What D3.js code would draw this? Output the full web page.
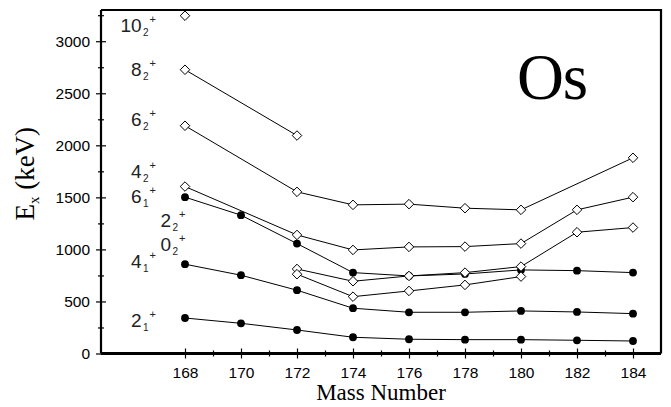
<!DOCTYPE html>
<html>
<head>
<meta charset="utf-8">
<script src="https://cdn.jsdelivr.net/npm/d3@7"></script>
<style>
  html, body { margin: 0; padding: 0; background: #fff; }
  svg { display: block; }
  .sans { font-family: "Liberation Sans", Arial, Helvetica, sans-serif; }
  .serif { font-family: "Liberation Serif", "Times New Roman", Times, "DejaVu Serif", serif; }
</style>
</head>
<body>
<svg id="chart" width="671" height="407"></svg>
<script>
// Mass numbers of the Os isotopes
const massNumbers = [168, 170, 172, 174, 176, 178, 180, 182, 184];

// Level energies (keV) per band member; null = not observed
const e10_2 = [3245, null, null, null, null, null, null, null, null];
const e8_2  = [2726, null, 2094, null, null, null, null, null, null];
const e6_2  = [2188, null, 1553, 1428, 1435, 1396, 1380, null, 1880];
const e4_2  = [1604, null, 1139, 995, 1024, 1027, 1056, 1380, 1502];
const e6_1  = [1502, 1329, 1056, 777, 745, 764, 803, 796, 777];
const e2_2  = [null, null, 812, 694, 745, 777, 835, 1165, 1210];
const e0_2  = [null, null, 762, 546, 601, 659, 739, null, null];
const e4_1  = [858, 752, 608, 435, 396, 396, 409, 399, 383];
const e2_1  = [341, 290, 226, 156, 137, 133, 133, 127, 120];

// Tick labels
const xTickLabels = [168, 170, 172, 174, 176, 178, 180, 182, 184];
const yTickLabels = [0, 500, 1000, 1500, 2000, 2500, 3000];

// Series: yrast-band levels drawn as filled circles, the rest as open diamonds
const series = [
  { spin: "10", idx: "2", values: e10_2, filled: false, label: [166.45, 3088] },
  { spin: "8",  idx: "2", values: e8_2,  filled: false, label: [166.45, 2668] },
  { spin: "6",  idx: "2", values: e6_2,  filled: false, label: [166.45, 2188] },
  { spin: "4",  idx: "2", values: e4_2,  filled: false, label: [166.45, 1688] },
  { spin: "6",  idx: "1", values: e6_1,  filled: true,  label: [166.45, 1444] },
  { spin: "2",  idx: "2", values: e2_2,  filled: false, label: [167.5, 1219] },
  { spin: "0",  idx: "2", values: e0_2,  filled: false, label: [167.5, 985] },
  { spin: "4",  idx: "1", values: e4_1,  filled: true,  label: [166.45, 819] },
  { spin: "2",  idx: "1", values: e2_1,  filled: true,  label: [166.45, 257] }
];

const svg = d3.select("#chart");

const x = d3.scaleLinear().domain([165, 185]).range([101, 661]);
const y = d3.scaleLinear().domain([0, 3300]).range([353.5, 10]);

// Frame (top and right sides)
svg.append("path")
  .attr("d", `M${x(165)},${y(3300)}H${x(185)}V${y(0)}`)
  .attr("fill", "none").attr("stroke", "#000").attr("stroke-width", 2.2);

// Bottom axis: major ticks with labels, minor ticks between
const xAxis = svg.append("g").attr("transform", `translate(0,${y(0)})`)
  .call(d3.axisBottom(x).tickValues(xTickLabels).tickSize(5).tickPadding(8).tickFormat(d3.format("d")));
xAxis.selectAll(".tick line").attr("y1", -5).attr("y2", 5).attr("stroke-width", 1.2);
xAxis.selectAll(".tick text").attr("class", "sans")
  .style("font-size", "15.5px").attr("fill", "#000");
xAxis.attr("font-family", null);
const xMinor = svg.append("g").attr("transform", `translate(0,${y(0)})`)
  .call(d3.axisBottom(x).tickValues(d3.range(169, 185, 2)).tickSize(3).tickFormat(""));
xMinor.selectAll(".tick line").attr("y1", -3).attr("y2", 3).attr("stroke-width", 1.2);
xMinor.select(".domain").remove();
xAxis.select(".domain").attr("d", `M${x(165)},0H${x(185)}`).attr("stroke-width", 2.8);

// Left axis
const yAxis = svg.append("g").attr("transform", `translate(${x(165)},0)`)
  .call(d3.axisLeft(y).tickValues(yTickLabels).tickSize(5).tickPadding(6).tickFormat(d3.format("d")));
yAxis.selectAll(".tick line").attr("x1", -5).attr("x2", 5).attr("stroke-width", 1.2);
yAxis.selectAll(".tick text").attr("class", "sans")
  .style("font-size", "15.5px").attr("fill", "#000");
yAxis.attr("font-family", null);
const yMinor = svg.append("g").attr("transform", `translate(${x(165)},0)`)
  .call(d3.axisLeft(y).tickValues(d3.range(250, 3300, 500)).tickSize(3).tickFormat(""));
yMinor.selectAll(".tick line").attr("x1", -3).attr("x2", 3).attr("stroke-width", 1.2);
yMinor.select(".domain").remove();
yAxis.select(".domain").attr("d", `M0,${y(0)}V${y(3300)}`).attr("stroke-width", 2.2);

// Axis titles
svg.append("text")
  .attr("class", "serif")
  .attr("x", x(175)).attr("y", 400)
  .attr("text-anchor", "middle")
  .style("font-size", "23px")
  .text("Mass Number");

const yTitle = svg.append("text")
  .attr("class", "serif")
  .attr("transform", `translate(34,${(y(0) + y(3300)) / 2 - 8}) rotate(-90)`)
  .attr("text-anchor", "middle")
  .style("font-size", "27px");
yTitle.append("tspan").text("E");
yTitle.append("tspan").style("font-size", "15px").attr("dy", 5).text("x");
yTitle.append("tspan").attr("dy", -5).text(" (keV)");

// Element symbol
svg.append("text")
  .attr("class", "serif")
  .attr("x", 552).attr("y", 99)
  .attr("text-anchor", "middle")
  .style("font-size", "65px")
  .style("letter-spacing", "-1px")
  .text("Os");

// Connecting lines (gaps are bridged between observed points)
const line = d3.line()
  .x(d => x(d.m))
  .y(d => y(d.e));

const pts = s => massNumbers.map((m, i) => ({ m, e: s.values[i] })).filter(d => d.e != null);

svg.append("g").selectAll("path")
  .data(series)
  .join("path")
  .attr("d", s => line(pts(s)))
  .attr("fill", "none")
  .attr("stroke", "#000")
  .attr("stroke-width", 1);

// Filled circles first, diamonds drawn above them
const circles = series.filter(s => s.filled);
const diamonds = series.filter(s => !s.filled);

svg.append("g").selectAll("g")
  .data(circles)
  .join("g")
  .selectAll("circle")
  .data(s => pts(s))
  .join("circle")
  .attr("cx", d => x(d.m)).attr("cy", d => y(d.e))
  .attr("r", 3.9)
  .attr("fill", "#000");

const diamondPath = d3.symbol().type(d3.symbolDiamond2).size(58);
svg.append("g").selectAll("g")
  .data(diamonds)
  .join("g")
  .selectAll("path")
  .data(s => pts(s))
  .join("path")
  .attr("transform", d => `translate(${x(d.m)},${y(d.e)})`)
  .attr("d", diamondPath())
  .attr("fill", "#fff")
  .attr("stroke", "#000")
  .attr("stroke-width", 1);

// State labels: J with band index subscript and parity superscript
series.forEach(s => {
  const lx = x(s.label[0]), ly = y(s.label[1]);
  svg.append("text")
    .attr("class", "sans")
    .attr("x", lx).attr("y", ly)
    .attr("text-anchor", "end")
    .style("font-size", "19px").attr("fill", "#222")
    .text(s.spin);
  svg.append("text")
    .attr("class", "sans")
    .attr("x", lx + 1.5).attr("y", ly + 4)
    .style("font-size", "10px").attr("fill", "#222")
    .text(s.idx);
  svg.append("text")
    .attr("class", "sans")
    .attr("x", lx + 8).attr("y", ly - 9)
    .style("font-size", "11px").attr("fill", "#222")
    .text("+");
});
</script>
</body>
</html>
